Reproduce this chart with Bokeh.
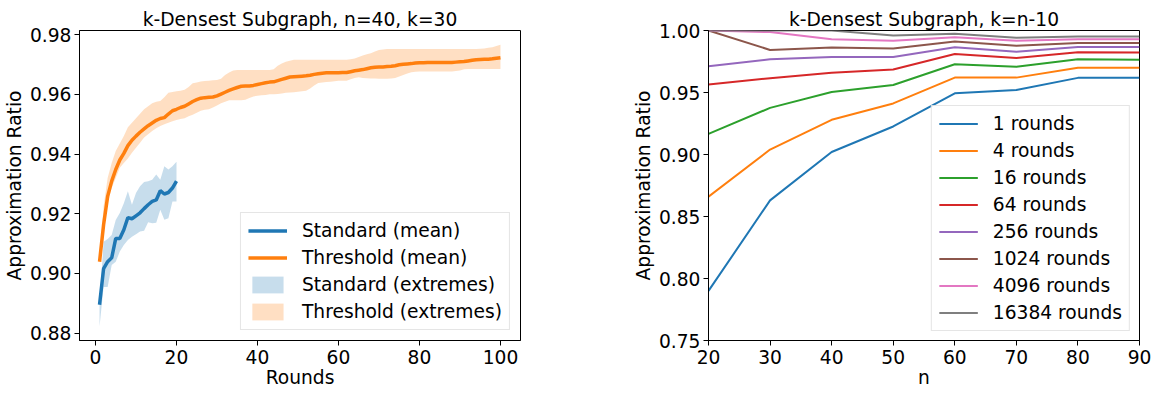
from bokeh.plotting import figure
from bokeh.models import Range1d, FixedTicker, PrintfTickFormatter, Legend, LegendItem
from bokeh.layouts import row
from bokeh.embed import file_html
from bokeh.resources import INLINE

FONT = "DejaVu Sans"
FS = "14pt"

# ---------------- Left chart data ----------------
rounds_std = list(range(1, 21))
std_mean = [0.8895, 0.9016, 0.9039, 0.9052, 0.9117, 0.9117, 0.9146, 0.9187, 0.9183, 0.9193,
            0.9203, 0.9217, 0.9230, 0.9241, 0.9246, 0.9277, 0.9266, 0.9271, 0.9286, 0.9309]
std_hi = [0.8898, 0.9106, 0.9115, 0.9129, 0.9179, 0.9202, 0.9235, 0.9275, 0.9230, 0.9269,
          0.9292, 0.9306, 0.9309, 0.9314, 0.9331, 0.9314, 0.9359, 0.9348, 0.9359, 0.9374]
std_lo = [0.8822, 0.8954, 0.8954, 0.9028, 0.9039, 0.9073, 0.9095, 0.9112, 0.9123, 0.9131,
          0.9140, 0.9143, 0.9171, 0.9168, 0.9170, 0.9213, 0.9180, 0.9185, 0.9241, 0.9241]

rounds_thr = list(range(1, 101))
thr_mean = [0.9039, 0.9163, 0.9258, 0.9309, 0.9348, 0.9380, 0.9402, 0.9428, 0.9446, 0.9460,
            0.9473, 0.9484, 0.9495, 0.9504, 0.9513, 0.9519, 0.9522, 0.9534, 0.9545, 0.9550,
            0.9556, 0.9560, 0.9568, 0.9576, 0.9582, 0.9587, 0.9589, 0.9590, 0.9591, 0.9595,
            0.9601, 0.9607, 0.9613, 0.9618, 0.9623, 0.9627, 0.9628, 0.9628, 0.9630, 0.9633,
            0.9636, 0.9639, 0.9641, 0.9642, 0.9646, 0.9650, 0.9654, 0.9658, 0.9659, 0.9660,
            0.9661, 0.9662, 0.9664, 0.9667, 0.9669, 0.9671, 0.9672, 0.9672, 0.9672, 0.9672,
            0.9673, 0.9673, 0.9676, 0.9679, 0.9681, 0.9683, 0.9686, 0.9689, 0.9691, 0.9692,
            0.9692, 0.9693, 0.9694, 0.9696, 0.9699, 0.9701, 0.9702, 0.9703, 0.9705, 0.9706,
            0.9706, 0.9707, 0.9707, 0.9707, 0.9707, 0.9707, 0.9707, 0.9707, 0.9708, 0.9709,
            0.9710, 0.9712, 0.9714, 0.9716, 0.9717, 0.9718, 0.9718, 0.9719, 0.9721, 0.9723]
thr_hi = [0.9045, 0.9225, 0.9320, 0.9370, 0.9410, 0.9435, 0.9460, 0.9490, 0.9505, 0.9520,
          0.9535, 0.9550, 0.9560, 0.9570, 0.9575, 0.9578, 0.9590, 0.9605, 0.9608, 0.9610,
          0.9612, 0.9615, 0.9625, 0.9637, 0.9640, 0.9643, 0.9645, 0.9646, 0.9647, 0.9648,
          0.9652, 0.9665, 0.9673, 0.9680, 0.9682, 0.9682, 0.9682, 0.9682, 0.9682, 0.9682,
          0.9682, 0.9682, 0.9682, 0.9684, 0.9696, 0.9703, 0.9709, 0.9713, 0.9716, 0.9716,
          0.9716, 0.9716, 0.9716, 0.9716, 0.9716, 0.9716, 0.9716, 0.9716, 0.9716, 0.9716,
          0.9716, 0.9716, 0.9718, 0.9720, 0.9725, 0.9730, 0.9734, 0.9738, 0.9744, 0.9749,
          0.9750, 0.9752, 0.9752, 0.9752, 0.9752, 0.9752, 0.9752, 0.9752, 0.9752, 0.9752,
          0.9752, 0.9752, 0.9752, 0.9752, 0.9752, 0.9752, 0.9752, 0.9752, 0.9752, 0.9752,
          0.9752, 0.9752, 0.9752, 0.9752, 0.9753, 0.9754, 0.9756, 0.9758, 0.9762, 0.9766]
thr_lo = [0.9035, 0.9145, 0.9235, 0.9286, 0.9320, 0.9354, 0.9370, 0.9385, 0.9404, 0.9421,
          0.9438, 0.9455, 0.9466, 0.9477, 0.9486, 0.9494, 0.9500, 0.9505, 0.9510, 0.9514,
          0.9517, 0.9520, 0.9527, 0.9532, 0.9538, 0.9545, 0.9548, 0.9550, 0.9556, 0.9563,
          0.9570, 0.9575, 0.9580, 0.9580, 0.9580, 0.9580, 0.9582, 0.9588, 0.9593, 0.9595,
          0.9597, 0.9598, 0.9600, 0.9600, 0.9601, 0.9603, 0.9605, 0.9606, 0.9607, 0.9609,
          0.9610, 0.9612, 0.9620, 0.9630, 0.9638, 0.9640, 0.9641, 0.9642, 0.9644, 0.9646,
          0.9646, 0.9646, 0.9651, 0.9655, 0.9657, 0.9655, 0.9654, 0.9653, 0.9653, 0.9652,
          0.9652, 0.9652, 0.9653, 0.9655, 0.9660, 0.9665, 0.9670, 0.9674, 0.9676, 0.9677,
          0.9677, 0.9677, 0.9677, 0.9677, 0.9677, 0.9677, 0.9677, 0.9677, 0.9678, 0.9680,
          0.9684, 0.9685, 0.9685, 0.9685, 0.9685, 0.9685, 0.9685, 0.9685, 0.9685, 0.9685]

left_xticks = [0, 20, 40, 60, 80, 100]
left_yticks = [0.88, 0.90, 0.92, 0.94, 0.96, 0.98]

# ---------------- Right chart data ----------------
n_values = [20, 30, 40, 50, 60, 70, 80, 90]
round_labels = ["1 rounds", "4 rounds", "16 rounds", "64 rounds",
                "256 rounds", "1024 rounds", "4096 rounds", "16384 rounds"]
ratio_1 = [0.790, 0.863, 0.902, 0.9226, 0.9493, 0.9521, 0.9618, 0.9618]
ratio_4 = [0.866, 0.904, 0.928, 0.9412, 0.9620, 0.9620, 0.9700, 0.9700]
ratio_16 = [0.9166, 0.9376, 0.9504, 0.9560, 0.9728, 0.9707, 0.9769, 0.9765]
ratio_64 = [0.9564, 0.9615, 0.9660, 0.9685, 0.9810, 0.9778, 0.9825, 0.9822]
ratio_256 = [0.9712, 0.9768, 0.9786, 0.9786, 0.9865, 0.9828, 0.9866, 0.9866]
ratio_1024 = [1.0000, 0.9843, 0.9862, 0.9855, 0.9912, 0.9877, 0.9900, 0.9900]
ratio_4096 = [1.0000, 0.9987, 0.9930, 0.9917, 0.9946, 0.9917, 0.9930, 0.9930]
ratio_16384 = [1.0000, 1.0000, 1.0000, 0.9960, 0.9973, 0.9941, 0.9952, 0.9952]
right_xticks = [20, 30, 40, 50, 60, 70, 80, 90]
right_yticks = [0.75, 0.80, 0.85, 0.90, 0.95, 1.00]

C = ["#1f77b4", "#ff7f0e", "#2ca02c", "#d62728", "#9467bd", "#8c564b", "#e377c2", "#7f7f7f"]


def style(p, xlabel, ylabel, xticks, yticks, yfmt):
    p.title.text_font = FONT
    p.title.text_font_size = FS
    p.title.text_font_style = "normal"
    p.title.text_color = "black"
    p.title.align = "center"
    p.title.standoff = 2
    p.outline_line_color = "black"
    p.outline_line_width = 1
    p.outline_line_alpha = 1
    p.xgrid.visible = False
    p.ygrid.visible = False
    p.background_fill_color = "white"
    p.border_fill_color = "white"
    for ax in (p.xaxis[0], p.yaxis[0]):
        ax.axis_line_color = "black"
        ax.major_tick_line_color = "black"
        ax.minor_tick_line_color = None
        ax.major_tick_in = 0
        ax.major_tick_out = 5
        ax.major_label_text_font = FONT
        ax.major_label_text_font_size = FS
        ax.major_label_text_color = "black"
        ax.axis_label_text_font = FONT
        ax.axis_label_text_font_size = FS
        ax.axis_label_text_font_style = "normal"
        ax.axis_label_text_color = "black"
    p.xaxis[0].axis_label = xlabel
    p.yaxis[0].axis_label = ylabel
    p.xaxis[0].ticker = FixedTicker(ticks=xticks)
    p.yaxis[0].ticker = FixedTicker(ticks=yticks)
    p.yaxis[0].formatter = PrintfTickFormatter(format=yfmt)
    p.xaxis[0].major_label_standoff = 4
    p.xaxis[0].axis_label_standoff = 0
    p.yaxis[0].major_label_standoff = 3
    p.yaxis[0].axis_label_standoff = 2


def style_legend(lg, margin):
    lg.label_text_font = FONT
    lg.label_text_font_size = FS
    lg.label_text_color = "black"
    lg.glyph_width = 39
    lg.glyph_height = 21
    lg.label_height = 21
    lg.label_standoff = 15
    lg.padding = 7
    lg.spacing = 6
    lg.margin = margin
    lg.border_line_color = "#cccccc"
    lg.border_line_width = 1
    lg.background_fill_color = "white"
    lg.background_fill_alpha = 0.8


# ---------------- Left figure ----------------
p1 = figure(width=580, height=393, output_backend="svg", toolbar_location=None,
            title="k-Densest Subgraph, n=40, k=30",
            x_range=Range1d(-3.95, 104.95), y_range=Range1d(0.8775, 0.9814),
            min_border_left=73, min_border_right=60, min_border_top=30, min_border_bottom=53)
style(p1, "Rounds", "Approximation Ratio", left_xticks, left_yticks, "%.2f")

b_std = p1.varea(x=rounds_std, y1=std_lo, y2=std_hi, fill_color=C[0], fill_alpha=0.25)
b_thr = p1.varea(x=rounds_thr, y1=thr_lo, y2=thr_hi, fill_color=C[1], fill_alpha=0.25)
l_std = p1.line(x=rounds_std, y=std_mean, line_color=C[0], line_width=3.5)
l_thr = p1.line(x=rounds_thr, y=thr_mean, line_color=C[1], line_width=3.5)

leg1 = Legend(items=[LegendItem(label="Standard (mean)", renderers=[l_std]),
                     LegendItem(label="Threshold (mean)", renderers=[l_thr]),
                     LegendItem(label="Standard (extremes)", renderers=[b_std]),
                     LegendItem(label="Threshold (extremes)", renderers=[b_thr])],
              location="bottom_right")
style_legend(leg1, 10)
p1.add_layout(leg1, "center")

# ---------------- Right figure ----------------
p2 = figure(width=571, height=393, output_backend="svg", toolbar_location=None,
            title="k-Densest Subgraph, k=n-10",
            x_range=Range1d(20, 90), y_range=Range1d(0.75, 1.0),
            min_border_left=128, min_border_right=12, min_border_top=30, min_border_bottom=53)
style(p2, "n", "Approximation Ratio", right_xticks, right_yticks, "%.2f")

series = [ratio_1, ratio_4, ratio_16, ratio_64, ratio_256, ratio_1024, ratio_4096, ratio_16384]
items = []
for i, (lab, vals) in enumerate(zip(round_labels, series)):
    r = p2.line(x=n_values, y=vals, line_color=C[i], line_width=2)
    items.append(LegendItem(label=lab, renderers=[r]))
leg2 = Legend(items=items, location="bottom_right")
style_legend(leg2, 9)
p2.add_layout(leg2, "center")

layout = row(p1, p2)
open("out.html", "w").write(file_html(layout, INLINE))
